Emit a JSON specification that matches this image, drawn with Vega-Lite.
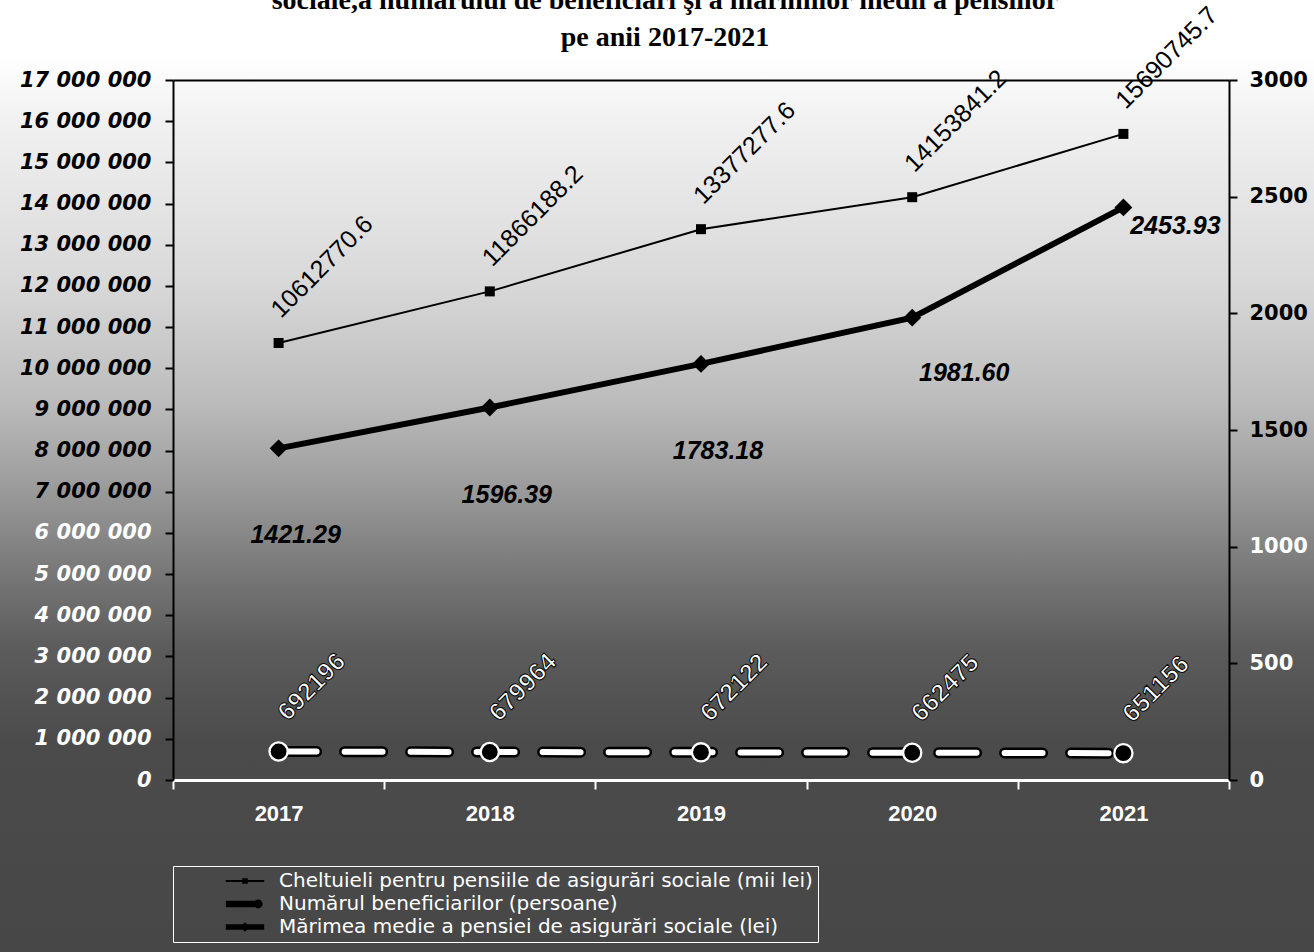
{
  "$schema": "https://vega.github.io/schema/vega-lite/v6.json",
  "width": 1314,
  "height": 952,
  "autosize": {"type": "none"},
  "padding": 0,
  "background": "#ffffff",
  "view": {
    "stroke": null,
    "fill": {
      "gradient": "linear",
      "x1": 0, "y1": 0, "x2": 0, "y2": 1,
      "stops": [
        {"offset": 0, "color": "#ffffff"},
        {"offset": 0.06, "color": "#ffffff"},
        {"offset": 0.12, "color": "#f2f2f2"},
        {"offset": 0.3, "color": "#d8d8d8"},
        {"offset": 0.42, "color": "#bcbcbc"},
        {"offset": 0.5, "color": "#a0a0a0"},
        {"offset": 0.6, "color": "#787878"},
        {"offset": 0.68, "color": "#5c5c5c"},
        {"offset": 0.78, "color": "#4b4b4b"},
        {"offset": 1, "color": "#474747"}
      ]
    }
  },
  "title": {
    "text": ["sociale,a numărului de beneficiari şi a mărimilor  medii a pensiilor", "pe anii 2017-2021"],
    "font": "Liberation Serif",
    "fontSize": 28,
    "fontWeight": "bold",
    "lineHeight": 37,
    "color": "black",
    "anchor": "middle",
    "frame": "group",
    "offset": -80,
    "baseline": "bottom",
    "dx": 8
  },
  "config": {
    "font": "Liberation Sans",
    "locale": {"number": {"decimal": ".", "thousands": " ", "grouping": [3], "currency": ["", ""]}}
  },
  "data": {
    "values": [
      {"an": 2017, "k": "C", "series": "Cheltuieli pentru pensiile de asigurări sociale (mii lei)", "v": 10612770.6},
      {"an": 2018, "k": "C", "series": "Cheltuieli pentru pensiile de asigurări sociale (mii lei)", "v": 11866188.2},
      {"an": 2019, "k": "C", "series": "Cheltuieli pentru pensiile de asigurări sociale (mii lei)", "v": 13377277.6},
      {"an": 2020, "k": "C", "series": "Cheltuieli pentru pensiile de asigurări sociale (mii lei)", "v": 14153841.2},
      {"an": 2021, "k": "C", "series": "Cheltuieli pentru pensiile de asigurări sociale (mii lei)", "v": 15690745.7},
      {"an": 2017, "k": "B", "series": "Numărul beneficiarilor (persoane)", "v": 692196},
      {"an": 2018, "k": "B", "series": "Numărul beneficiarilor (persoane)", "v": 679964},
      {"an": 2019, "k": "B", "series": "Numărul beneficiarilor (persoane)", "v": 672122},
      {"an": 2020, "k": "B", "series": "Numărul beneficiarilor (persoane)", "v": 662475},
      {"an": 2021, "k": "B", "series": "Numărul beneficiarilor (persoane)", "v": 651156},
      {"an": 2017, "k": "M", "series": "Mărimea medie a pensiei de asigurări sociale (lei)", "v": 1421.29},
      {"an": 2018, "k": "M", "series": "Mărimea medie a pensiei de asigurări sociale (lei)", "v": 1596.39},
      {"an": 2019, "k": "M", "series": "Mărimea medie a pensiei de asigurări sociale (lei)", "v": 1783.18},
      {"an": 2020, "k": "M", "series": "Mărimea medie a pensiei de asigurări sociale (lei)", "v": 1981.60},
      {"an": 2021, "k": "M", "series": "Mărimea medie a pensiei de asigurări sociale (lei)", "v": 2453.93}
    ]
  },
  "layer": [
    {
      "encoding": {
        "x": {
          "field": "an", "type": "ordinal",
          "scale": {"type": "band", "range": [173, 1229], "paddingInner": 0, "paddingOuter": 0},
          "axis": {
            "title": null, "labelAngle": 0, "offset": -172,
            "domainColor": "white", "domainWidth": 3,
            "tickColor": "white", "tickWidth": 2, "tickSize": 9, "tickBand": "extent",
            "labelColor": "white", "labelFontSize": 22, "labelFontWeight": "bold", "labelPadding": 14
          }
        },
        "y": {
          "field": "v", "type": "quantitative",
          "scale": {"domain": [0, 17000000], "range": [780, 80], "nice": false},
          "axis": {
            "title": null, "offset": -173,
            "values": [0, 1000000, 2000000, 3000000, 4000000, 5000000, 6000000, 7000000, 8000000, 9000000, 10000000, 11000000, 12000000, 13000000, 14000000, 15000000, 16000000, 17000000],
            "format": ",d",
            "labelFont": "DejaVu Sans",
            "labelFontSize": 21, "labelFontWeight": "bold", "labelFontStyle": "italic",
            "labelColor": {"condition": {"test": "datum.value <= 6000000", "value": "white"}, "value": "black"},
            "labelPadding": 14,
            "domainColor": "black", "domainWidth": 2,
            "tickColor": "black", "tickWidth": 2, "tickSize": 8,
            "grid": true,
            "gridColor": {"condition": {"test": "datum.value == 17000000", "value": "black"}, "value": "transparent"},
            "gridWidth": 2
          }
        }
      },
      "layer": [
        {
          "transform": [{"filter": "datum.an == 2017"}],
          "mark": {"type": "point", "filled": true, "color": "black", "stroke": "white", "strokeWidth": 1.2, "opacity": 0, "size": 256},
          "encoding": {
            "shape": {
              "field": "series", "type": "nominal",
              "scale": {
                "domain": ["Cheltuieli pentru pensiile de asigurări sociale (mii lei)", "Numărul beneficiarilor (persoane)", "Mărimea medie a pensiei de asigurări sociale (lei)"],
                "range": [
                  "M-2.4,-0.12H2.4V0.12H-2.4Z M-0.35,-0.35H0.35V0.35H-0.35Z",
                  "M-2.4,-0.4H1.2V0.4H-2.4Z M1.1,0A0.55,0.55 0 1,1 2.2,0A0.55,0.55 0 1,1 1.1,0Z",
                  "M-2.4,-0.35H2.4V0.35H-2.4Z M0,-0.6L0.6,0L0,0.6L-0.6,0Z"
                ]
              },
              "legend": {
                "title": null, "orient": "none", "legendX": 173, "legendY": 866, "direction": "vertical",
                "symbolSize": 256, "symbolOffset": 57, "labelOffset": 24,
                "symbolOpacity": 1, "symbolFillColor": "black", "symbolStrokeColor": "white", "symbolStrokeWidth": 1.2,
                "labelFontSize": 20, "labelColor": "white", "labelFont": "DejaVu Sans", "labelLimit": 900,
                "padding": 5, "rowPadding": 3, "strokeColor": "white"
              }
            }
          }
        },
        {
          "transform": [{"filter": "datum.k == 'C'"}],
          "mark": {"type": "line", "color": "black", "strokeWidth": 2}
        },
        {
          "transform": [{"filter": "datum.k == 'C'"}],
          "mark": {"type": "point", "shape": "square", "filled": true, "color": "black", "size": 100, "opacity": 1}
        },
        {
          "transform": [{"filter": "datum.k == 'C'"}],
          "mark": {"type": "text", "angle": -45, "align": "left", "baseline": "alphabetic", "radius": 24, "theta": 0.1, "fontSize": 25, "color": "black"},
          "encoding": {"text": {"field": "v", "type": "quantitative", "format": ".1f"}}
        },
        {
          "transform": [{"filter": "datum.k == 'B'"}],
          "mark": {"type": "line", "color": "black", "strokeWidth": 11, "strokeDash": [38, 28], "strokeCap": "round"}
        },
        {
          "transform": [{"filter": "datum.k == 'B'"}],
          "mark": {"type": "line", "color": "white", "strokeWidth": 6, "strokeDash": [38, 28], "strokeCap": "round"}
        },
        {
          "transform": [{"filter": "datum.k == 'B'"}],
          "mark": {"type": "circle", "color": "white", "size": 420, "opacity": 1}
        },
        {
          "transform": [{"filter": "datum.k == 'B'"}],
          "mark": {"type": "circle", "color": "black", "size": 250, "opacity": 1}
        },
        {
          "transform": [{"filter": "datum.k == 'B'"}],
          "mark": {"type": "text", "angle": -45, "align": "left", "baseline": "alphabetic", "radius": 31, "theta": 0.3, "fontSize": 25, "fontWeight": "bold", "fill": "white", "stroke": "black", "strokeWidth": 1},
          "encoding": {"text": {"field": "v", "type": "quantitative", "format": "d"}}
        }
      ]
    },
    {
      "encoding": {
        "x": {"field": "an", "type": "ordinal"},
        "y": {
          "field": "v", "type": "quantitative",
          "scale": {"domain": [0, 3000], "range": [780, 80], "nice": false},
          "axis": {
            "orient": "right", "title": null, "offset": -85,
            "values": [0, 500, 1000, 1500, 2000, 2500, 3000],
            "format": "d",
            "labelFont": "DejaVu Sans",
            "labelFontSize": 21, "labelFontWeight": "bold",
            "labelColor": {"condition": {"test": "datum.value <= 1000", "value": "white"}, "value": "black"},
            "labelPadding": 12,
            "domainColor": "black", "domainWidth": 2,
            "tickColor": "black", "tickWidth": 2, "tickSize": 8,
            "grid": false
          }
        }
      },
      "layer": [
        {
          "transform": [{"filter": "datum.k == 'M'"}],
          "mark": {"type": "line", "color": "black", "strokeWidth": 6}
        },
        {
          "transform": [{"filter": "datum.k == 'M'"}],
          "mark": {"type": "point", "shape": "diamond", "filled": true, "color": "black", "size": 320, "opacity": 1}
        },
        {
          "transform": [{"filter": "datum.k == 'M' && datum.an <= 2019"}],
          "mark": {"type": "text", "align": "center", "baseline": "middle", "dx": 17, "dy": 87, "fontSize": 25, "fontWeight": "bold", "fontStyle": "italic", "color": "black"},
          "encoding": {"text": {"field": "v", "type": "quantitative", "format": ".2f"}}
        },
        {
          "transform": [{"filter": "datum.k == 'M' && datum.an == 2020"}],
          "mark": {"type": "text", "align": "center", "baseline": "middle", "dx": 52, "dy": 55, "fontSize": 25, "fontWeight": "bold", "fontStyle": "italic", "color": "black"},
          "encoding": {"text": {"field": "v", "type": "quantitative", "format": ".2f"}}
        },
        {
          "transform": [{"filter": "datum.k == 'M' && datum.an == 2021"}],
          "mark": {"type": "text", "align": "center", "baseline": "middle", "dx": 52, "dy": 19, "fontSize": 25, "fontWeight": "bold", "fontStyle": "italic", "color": "black"},
          "encoding": {"text": {"field": "v", "type": "quantitative", "format": ".2f"}}
        }
      ]
    }
  ],
  "resolve": {"scale": {"y": "independent"}}
}
